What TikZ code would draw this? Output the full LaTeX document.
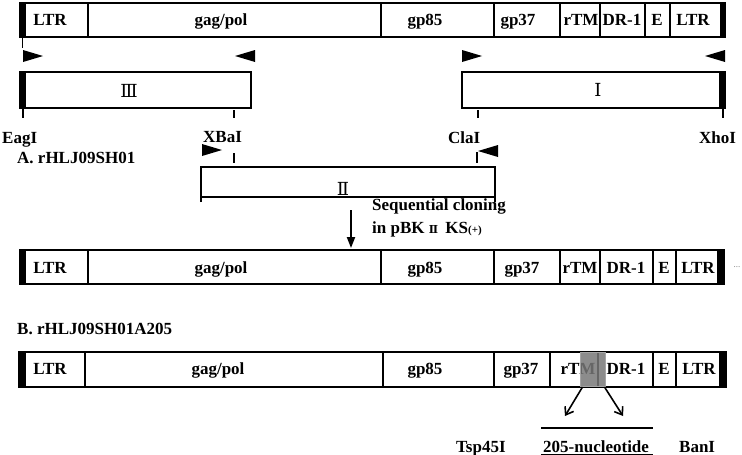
\documentclass[tikz,border=0pt]{standalone}
\usepackage{fontspec}
\setmainfont{Liberation Serif}
\newfontfamily\numfont{DejaVu Serif}
\definecolor{delshade}{RGB}{120,120,120}
\definecolor{deledge}{RGB}{165,165,165}
\usetikzlibrary{arrows.meta, positioning}

\begin{document}
\begin{tikzpicture}[x=1pt, y=-1pt,
    seglbl/.style={font=\fontsize{17}{19}\selectfont\bfseries, inner sep=0pt, anchor=base},
    txt/.style={font=\fontsize{17}{19}\selectfont\bfseries, inner sep=0pt, anchor=base west},
    roman/.style={font=\fontsize{18}{19}\selectfont\numfont, inner sep=0pt},
    bar/.style={line width=2.4pt},
    frag/.style={line width=2.4pt},
    tick/.style={line width=2pt},
    endcap/.style={fill=black}]

  \useasboundingbox (0,0) rectangle (742,455);

  % Wild-type genome (top)
  \foreach \a/\b/\t/\lbl [count=\i] in
    {25/88/50/LTR, 88/381/221/{gag/pol}, 381/494/425/gp85, 494/560/518/gp37,
     560/600/581/rTM, 600/645/622/DR-1, 645/670/657/E, 670/721/693/LTR} {
    \draw[bar] (\a,3) rectangle (\b,37);
    \node[seglbl] (top-\i) at (\t,25.5) {\lbl};
  }
  \fill[endcap] (19,2) rectangle (25,38);
  \fill[endcap] (721,2) rectangle (726,38);
  \draw[tick, line width=1.5pt] (22.5,38) -- (22.5,48);

  % Primer arrowheads
  \foreach \x/\y/\d in {23/56/1, 255/56/-1, 462/56/1, 725/56/-1,
                        202/150/1, 498/151/-1} {
    \fill (\x,\y-6) -- ++(20*\d,6) -- (\x,\y+6) -- cycle;
  }

  % Fragments III and I
  \draw[frag] (23,72) rectangle (251,108);
  \fill[endcap] (19,71) rectangle (26,109);
  \node[roman] (fragIII) at (129,91) {Ⅲ};
  \draw[frag] (462,72) rectangle (722,108);
  \fill[endcap] (719,71) rectangle (726,109);
  \node[roman] (fragI) at (598,90) {Ⅰ};

  % Restriction sites
  \draw[tick] (23,108) -- (23,118);
  \draw[tick] (234,110) -- (234,118);
  \draw[tick] (478,110) -- (478,118);
  \draw[tick] (723,108) -- (723,118);
  \node[txt] (eag) at (2,143) {EagI};
  \node[txt] (xba) at (203,142) {XBaI};
  \node[txt] (cla) at (448,143) {ClaI};
  \node[txt] (xho) at (699,143) {XhoI};

  % Fragment II
  \node[txt] (cloneA) at (17,163) {A. rHLJ09SH01};
  \draw[tick] (234,153) -- (234,163);
  \draw[tick] (477,152) -- (477,163);
  \draw[frag] (201,202) -- (201,167) -- (495,167) -- (495,202);
  \draw[frag] (201,197) -- (495,197);
  \node[roman] (fragII) at (343,189) {Ⅱ};

  % Cloning step
  \coordinate (step-top) at (351,210);
  \coordinate (step-end) at (351,248);
  \draw[line width=2pt, -{Triangle[length=11pt,width=8pt]}] (step-top) -- (step-end);
  \node[txt] (seq1) at (372,210) {Sequential cloning};
  \node[txt] (seq2) at (372,233)
    {in pBK {\numfont\fontsize{11}{12}\selectfont Ⅱ}\hspace{3pt} KS{\fontsize{11}{12}\selectfont(+)}};

  % Full-length clone A
  \foreach \a/\b/\t/\lbl [count=\i] in
    {25/88/50/LTR, 88/381/221/{gag/pol}, 381/494/425/gp85, 494/560/522/gp37,
     560/600/580/rTM, 600/653/626/DR-1, 653/676/664/E, 676/718/698/LTR} {
    \draw[bar] (\a,250) rectangle (\b,284);
    \node[seglbl] (mid-\i) at (\t,273) {\lbl};
  }
  \fill[endcap] (19,249) rectangle (25,285);
  \fill[endcap] (718,249) rectangle (725,285);
  \node[font=\fontsize{9}{10}\selectfont, text=gray, inner sep=0pt] (more) at (737,267) {...};

  % Deletion clone B
  \node[txt] (cloneB) at (17,334) {B. rHLJ09SH01A205};
  \foreach \a/\b/\t/\lbl [count=\i] in
    {25/85/50/LTR, 85/383/218/{gag/pol}, 383/494/425/gp85, 494/550/521/gp37,
     550/598/578/rTM, 598/653/626/DR-1, 653/676/664/E, 676/720/699/LTR} {
    \draw[bar] (\a,352) rectangle (\b,387);
    \node[seglbl] (bot-\i) at (\t,374) {\lbl};
  }
  \fill[endcap] (18,351) rectangle (25,388);
  \fill[endcap] (720,351) rectangle (727,388);

  % Deleted 205-nt region
  \node[fill=delshade, fill opacity=0.85, draw=deledge, line width=1pt,
        minimum width=25pt, minimum height=34pt, inner sep=0pt] (del) at (592.5,369.5) {};
  \coordinate (tsp-end) at (565,416);
  \coordinate (ban-end) at (623,416);
  \draw[line width=1.6pt, -{Straight Barb[length=7pt,width=10pt]}]
    ([xshift=3pt]del.south west) -- (tsp-end);
  \draw[line width=1.6pt, -{Straight Barb[length=7pt,width=10pt]}]
    ([xshift=-1pt]del.south east) -- (ban-end);
  \draw[line width=2pt] (541,428) -- (653,428);
  \node[txt] (tsp) at (456,452) {Tsp45I};
  \node[txt] (nuc) at (543,452) {205-nucleotide};
  \draw[line width=1.6pt] (541,455) -- (653,455);
  \node[txt] (ban) at (679,452) {BanI};

\end{tikzpicture}
\end{document}
